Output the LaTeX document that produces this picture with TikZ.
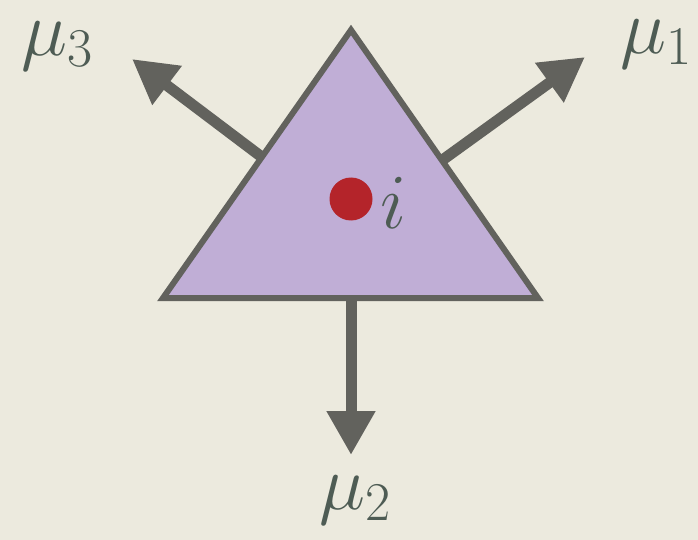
\documentclass[tikz,border=0pt]{standalone}
\usepackage{fix-cm}
\usepackage{amsmath}
\usepackage{tikz}
\usetikzlibrary{arrows.meta,positioning}
\definecolor{sfondo}{RGB}{236,234,222}
\definecolor{grigio}{RGB}{98,98,93}
\definecolor{lilla}{RGB}{192,174,214}
\definecolor{rosso}{RGB}{180,36,42}
\definecolor{testo}{RGB}{78,92,84}

\begin{document}
\begin{tikzpicture}[x=1pt,y=-1pt,
  freccia/.style={line width=11pt, draw=grigio, -{Triangle[length=44pt,width=46pt]}},
  etichetta/.style={text=testo, inner sep=0pt, font=\fontsize{78}{88}\selectfont}]
\fill[sfondo] (0,0) rectangle (698,540);
\useasboundingbox (0,0) rectangle (698,540);
% vertici del triangolo
\coordinate (A) at (351,30);
\coordinate (B) at (163,298);
\coordinate (C) at (538,298);
% etichette esterne
\node[etichetta] (mu3) at (57,46) {$\mu_3$};
\node[etichetta] (mu1) at (656,44) {$\mu_1$};
\node[etichetta] (mu2) at (355,500) {$\mu_2$};
% punte e partenze delle frecce
\coordinate (p3) at (132,59);
\coordinate (p1) at (585,57);
\coordinate (p2) at (351,455);
\coordinate (m3) at (275,167);
\coordinate (m1) at (430,169);
\coordinate (m2) at (351,290);
\draw[freccia] (m3) -- (p3);
\draw[freccia] (m1) -- (p1);
\draw[freccia] (m2) -- (p2);
% triangolo
\draw[line width=6pt, draw=grigio, fill=lilla, line join=miter] (A) -- (B) -- (C) -- cycle;
% sito i
\node[circle, fill=rosso, minimum size=43pt, inner sep=0pt] (sito) at (351,199) {};
\node[etichetta, right=8pt of sito, yshift=-4pt] (i) {$i$};
\end{tikzpicture}
\end{document}
